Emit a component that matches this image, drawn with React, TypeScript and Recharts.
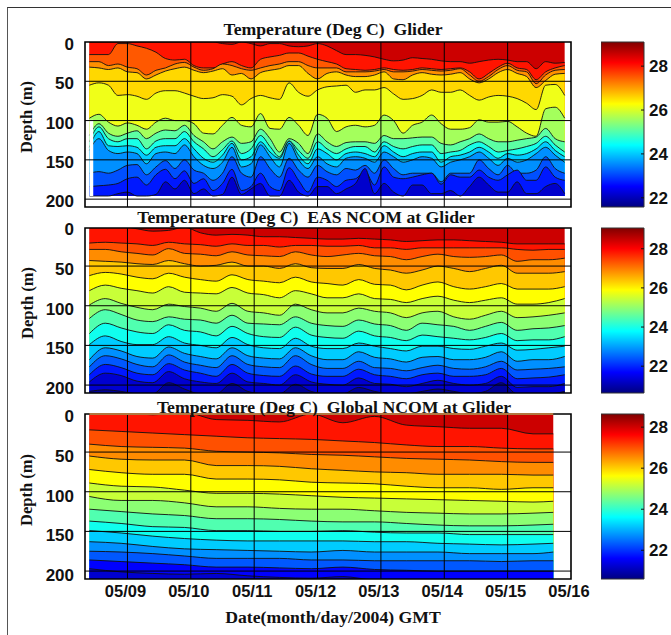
import { AreaChart, Area, BarChart, Bar, XAxis, YAxis, ReferenceLine, ReferenceArea } from 'recharts'

// --- Glider panel: contour depths (m), every 0.15 day
const gliderDays = [8.4, 8.55, 8.7, 8.85, 9, 9.15, 9.3, 9.45, 9.6, 9.75, 9.9, 10.05, 10.2, 10.35, 10.5, 10.65, 10.8, 10.95, 11.1, 11.25, 11.4, 11.55, 11.7, 11.85, 12, 12.15, 12.3, 12.45, 12.6, 12.75, 12.9, 13.05, 13.2, 13.35, 13.5, 13.65, 13.8, 13.95, 14.1, 14.25, 14.4, 14.55, 14.7, 14.85, 15, 15.15, 15.3, 15.45, 15.6, 15.75, 15.9]
const gliderC0 = [0, 0, 0, 0, 0, 0, 0, 0, 0, 0, 0, 0, 0, 0, 2, 3, 0, 2, 5, 2, 2, 5, 6, 5, 2, 5, 11, 16, 16, 17, 19, 22, 24, 23, 20, 21, 22, 24, 25, 25, 27, 25, 23, 22, 23, 25, 25, 34, 25, 27, 26]
const gliderC1 = [16, 16, 16, 2, 2, 5, 8, 13, 21, 23, 22, 30, 33, 33, 28, 25, 30, 33, 22, 19, 17, 14, 14, 18, 22, 25, 28, 34, 35, 36, 35, 33, 35, 36, 35, 33, 34, 35, 34, 33, 38, 47, 40, 32, 27, 33, 35, 48, 38, 33, 30]
const gliderC2 = [25, 25, 30, 28, 32, 34, 42, 36, 33, 28, 26, 32, 36, 34, 28, 30, 34, 36, 33, 30, 28, 25, 25, 30, 33, 33, 33, 38, 38, 38, 37, 35, 38, 38, 37, 35, 36, 37, 36, 34, 42, 50, 44, 35, 30, 36, 38, 53, 42, 36, 35]
const gliderC3 = [32, 33, 35, 33, 38, 39, 47, 42, 37, 34, 32, 36, 39, 37, 34, 42, 40, 47, 39, 36, 34, 30, 30, 40, 47, 40, 38, 42, 44, 44, 42, 38, 47, 48, 42, 39, 41, 42, 41, 39, 47, 52, 47, 39, 35, 40, 44, 58, 49, 41, 40]
const gliderC4 = [55, 52, 55, 68, 67, 69, 73, 65, 62, 62, 65, 69, 72, 71, 67, 69, 80, 72, 68, 71, 73, 52, 64, 69, 61, 57, 56, 55, 64, 61, 61, 58, 66, 73, 72, 68, 61, 64, 64, 61, 68, 74, 70, 68, 69, 72, 78, 86, 55, 54, 68]
const gliderC5 = [97, 92, 102, 107, 103, 106, 111, 102, 97, 100, 100, 104, 116, 117, 106, 96, 106, 108, 91, 110, 111, 96, 106, 119, 92, 97, 114, 108, 106, 108, 106, 93, 100, 116, 106, 102, 93, 104, 111, 111, 109, 99, 102, 102, 101, 108, 116, 120, 85, 83, 97]
const gliderC6 = [119, 104, 116, 120, 116, 113, 123, 116, 112, 113, 106, 119, 127, 136, 127, 121, 129, 127, 111, 123, 140, 123, 129, 142, 117, 127, 133, 128, 127, 127, 129, 119, 123, 123, 122, 121, 121, 129, 131, 127, 123, 117, 123, 127, 127, 125, 123, 121, 110, 123, 127]
const gliderC7 = [127, 108, 123, 127, 123, 123, 136, 126, 123, 123, 114, 127, 136, 146, 137, 126, 142, 136, 119, 133, 146, 126, 138, 148, 127, 136, 142, 136, 133, 133, 140, 127, 133, 136, 133, 131, 131, 142, 140, 138, 131, 127, 133, 140, 138, 136, 133, 129, 120, 131, 140]
const gliderC8 = [134, 114, 132, 133, 132, 134, 144, 134, 132, 132, 123, 136, 148, 153, 144, 129, 150, 146, 127, 140, 148, 126, 144, 155, 136, 142, 150, 142, 140, 142, 146, 132, 140, 146, 142, 140, 140, 153, 146, 144, 140, 134, 140, 148, 142, 144, 142, 136, 127, 138, 146]
const gliderC9 = [138, 123, 138, 142, 140, 142, 155, 142, 140, 142, 131, 146, 157, 161, 153, 134, 159, 155, 131, 146, 159, 129, 150, 161, 146, 155, 159, 148, 146, 148, 153, 140, 146, 153, 150, 146, 148, 159, 153, 150, 146, 140, 148, 157, 148, 153, 150, 142, 134, 144, 153]
const gliderC10 = [167, 165, 167, 163, 157, 156, 169, 159, 151, 161, 150, 163, 167, 176, 167, 146, 167, 172, 146, 161, 172, 148, 163, 172, 157, 165, 169, 161, 163, 157, 167, 150, 161, 169, 167, 167, 167, 178, 167, 167, 167, 150, 161, 169, 157, 167, 167, 163, 146, 161, 167]
const gliderC11 = [184, 183, 182, 180, 174, 172, 182, 169, 162, 174, 164, 180, 174, 189, 180, 162, 189, 184, 167, 184, 189, 160, 176, 191, 172, 176, 184, 176, 174, 165, 182, 159, 172, 174, 172, 169, 167, 181, 169, 172, 172, 163, 172, 176, 169, 163, 176, 176, 159, 172, 176]
const gliderC12 = [196, 196, 196, 193, 191, 196, 196, 194, 178, 187, 176, 193, 187, 196, 194, 172, 194, 187, 180, 196, 196, 176, 191, 196, 184, 184, 193, 187, 180, 161, 193, 180, 191, 196, 182, 182, 193, 193, 189, 196, 184, 172, 182, 191, 191, 178, 193, 193, 184, 180, 193]
const gliderContours = [gliderC0, gliderC1, gliderC2, gliderC3, gliderC4, gliderC5, gliderC6, gliderC7, gliderC8, gliderC9, gliderC10, gliderC11, gliderC12]
const gliderColors = ['#cc0000', '#ff1400', '#ff5800', '#ff9000', '#ffd800', '#f0ff18', '#a4ff5c', '#5cffa4', '#18ffe8', '#00ccff', '#0090ff', '#0050ff', '#0018ff', '#0000cc']

// --- EAS NCOM panel, every 0.25 day
const easDays = [8.4, 8.65, 8.9, 9.15, 9.4, 9.65, 9.9, 10.15, 10.4, 10.65, 10.9, 11.15, 11.4, 11.65, 11.9, 12.15, 12.4, 12.65, 12.9, 13.15, 13.4, 13.65, 13.9, 14.15, 14.4, 14.65, 14.9, 15.15, 15.4, 15.65, 15.9]
const easC0 = [0, 0, 0, 3, 6, 5, 1, 8, 11, 10, 11, 13, 13, 14, 15, 16, 16, 15, 16, 17, 19, 18, 17, 17, 18, 19, 20, 22, 22, 22, 22]
const easC1 = [21, 20, 21, 22, 24, 20, 22, 23, 25, 22, 24, 24, 26, 24, 24, 25, 25, 24, 27, 27, 29, 27, 27, 27, 27, 27, 27, 29, 30, 29, 29]
const easC2 = [29, 29, 32, 34, 36, 28, 34, 35, 37, 32, 36, 37, 38, 32, 36, 38, 36, 34, 37, 38, 42, 38, 35, 38, 39, 38, 36, 44, 42, 42, 40]
const easC3 = [43, 44, 45, 47, 48, 43, 47, 50, 49, 45, 50, 50, 53, 47, 52, 53, 53, 48, 53, 55, 59, 55, 50, 53, 57, 53, 49, 59, 59, 59, 57]
const easC4 = [62, 58, 60, 64, 66, 59, 64, 67, 69, 61, 67, 69, 71, 64, 70, 72, 74, 67, 73, 74, 80, 74, 70, 76, 79, 76, 72, 79, 79, 79, 76]
const easC5 = [81, 74, 78, 81, 84, 76, 83, 84, 85, 77, 84, 86, 90, 81, 85, 90, 90, 85, 91, 92, 96, 91, 88, 93, 96, 93, 90, 98, 98, 96, 91]
const easC6 = [99, 91, 97, 102, 105, 98, 101, 103, 107, 97, 107, 109, 112, 98, 105, 109, 109, 103, 107, 109, 115, 109, 107, 114, 117, 112, 107, 115, 114, 112, 109]
const easC7 = [116, 105, 111, 118, 120, 114, 117, 118, 122, 112, 122, 123, 124, 114, 122, 125, 126, 118, 123, 125, 131, 122, 124, 126, 131, 126, 121, 131, 129, 128, 125]
const easC8 = [135, 122, 128, 133, 135, 124, 131, 133, 138, 126, 135, 139, 140, 127, 137, 140, 141, 132, 138, 140, 144, 137, 139, 141, 143, 140, 135, 144, 143, 143, 139]
const easC9 = [149, 138, 145, 149, 149, 139, 147, 150, 153, 140, 149, 153, 154, 141, 151, 154, 154, 147, 151, 154, 157, 151, 151, 154, 155, 151, 147, 156, 155, 153, 151]
const easC10 = [168, 153, 157, 164, 166, 152, 160, 164, 167, 153, 163, 166, 167, 153, 163, 168, 168, 158, 165, 167, 171, 165, 164, 168, 168, 165, 158, 170, 168, 168, 164]
const easC11 = [177, 163, 167, 174, 177, 162, 171, 175, 178, 163, 174, 177, 178, 163, 174, 179, 179, 170, 178, 179, 182, 178, 175, 179, 180, 177, 170, 181, 180, 179, 177]
const easC12 = [187, 174, 178, 185, 187, 173, 181, 185, 189, 174, 185, 188, 189, 176, 186, 189, 189, 180, 187, 189, 192, 187, 185, 189, 189, 187, 179, 192, 191, 190, 187]
const easC13 = [196, 185, 188, 195, 197, 183, 192, 196, 198, 185, 196, 198, 200, 187, 196, 199, 200, 191, 198, 199, 202, 198, 194, 198, 200, 198, 189, 203, 202, 202, 198]
const easC14 = [208, 206, 208, 211, 211, 197, 205, 211, 211, 198, 208, 211, 211, 199, 208, 211, 211, 203, 208, 211, 211, 208, 205, 208, 211, 208, 197, 211, 211, 211, 208]
const easContours = [easC0, easC1, easC2, easC3, easC4, easC5, easC6, easC7, easC8, easC9, easC10, easC11, easC12, easC13, easC14]
const easColors = ['#cc0000', '#ff1400', '#ff5000', '#ff8c00', '#ffc800', '#ffff00', '#c8ff38', '#8cff74', '#50ffb0', '#10ffee', '#00ccff', '#0090ff', '#0058ff', '#0018ff', '#0000d0', '#000098']

// --- Global NCOM panel, every 0.5 day
const globalDays = [8.4, 8.9, 9.4, 9.9, 10.4, 10.9, 11.4, 11.9, 12.4, 12.9, 13.4, 13.9, 14.4, 14.9, 15.4, 15.72]
const globalC0 = [0, 0, 3, 0, 9, 10, 12, 2, 13, 5, 16, 18, 20, 20, 27, 27]
const globalC1 = [22, 24, 26, 28, 30, 32, 33, 34, 36, 38, 41, 43, 43, 45, 46, 46]
const globalC2 = [40, 43, 44, 45, 49, 50, 51, 53, 54, 56, 58, 59, 60, 62, 63, 63]
const globalC3 = [55, 59, 60, 60, 67, 67, 68, 71, 73, 75, 76, 78, 78, 78, 79, 79]
const globalC4 = [72, 76, 78, 78, 84, 84, 85, 88, 89, 90, 93, 95, 95, 97, 95, 95]
const globalC5 = [89, 93, 94, 98, 102, 102, 103, 105, 107, 108, 109, 110, 111, 112, 113, 112]
const globalC6 = [106, 111, 111, 114, 119, 119, 121, 122, 122, 124, 126, 127, 128, 128, 127, 126]
const globalC7 = [122, 125, 128, 130, 134, 134, 135, 137, 138, 138, 140, 142, 143, 143, 142, 141]
const globalC8 = [137, 140, 144, 145, 149, 149, 150, 150, 149, 151, 152, 152, 154, 154, 154, 154]
const globalC9 = [149, 152, 156, 159, 161, 162, 162, 162, 162, 163, 163, 165, 166, 167, 166, 165]
const globalC10 = [163, 165, 169, 172, 173, 174, 175, 176, 174, 176, 176, 176, 178, 178, 178, 176]
const globalC11 = [175, 176, 178, 181, 184, 184, 184, 186, 186, 187, 187, 187, 187, 188, 187, 187]
const globalC12 = [186, 188, 190, 192, 195, 195, 196, 197, 195, 198, 199, 200, 200, 200, 200, 200]
const globalC13 = [197, 201, 203, 204, 203, 206, 208, 209, 207, 211, 211, 211, 211, 211, 211, 211]
const globalContours = [globalC0, globalC1, globalC2, globalC3, globalC4, globalC5, globalC6, globalC7, globalC8, globalC9, globalC10, globalC11, globalC12, globalC13]
const globalColors = ['#cc0000', '#ff1400', '#ff5000', '#ff8c00', '#ffc800', '#ffff00', '#c8ff38', '#8cff74', '#50ffb0', '#10ffee', '#00ccff', '#0090ff', '#0058ff', '#0000ff', '#0000d0']

const dayTicks = [9, 10, 11, 12, 13, 14, 15, 16]
const dayLabels = ['05/09', '05/10', '05/11', '05/12', '05/13', '05/14', '05/15', '05/16']
const depthTicks = [0, 50, 100, 150, 200]
const jet = ['#800000', '#ff0000', '#ff8000', '#ffff00', '#80ff80', '#00ffff', '#0080ff', '#0000ff', '#000080']

const SERIF = '"Liberation Serif", serif'
const SANS = '"Liberation Sans", sans-serif'
const tickStyle = { fontFamily: SANS, fontWeight: 700, fontSize: 17, fill: '#111' }
const PAD = 12 // room above the box so the "0" label is not cut

function Caption({ x, y, rotate, size = 17.7, children }: { x: number; y: number; rotate?: boolean; size?: number; children: string }) {
  return (
    <div style={{
      position: 'absolute', left: x, top: y, whiteSpace: 'pre', fontFamily: SERIF, fontWeight: 700, fontSize: size, color: '#111',
      lineHeight: 1, transform: `translate(-50%, -50%)${rotate ? ' rotate(-90deg)' : ''}`,
    }}>{children}</div>
  )
}

type PanelProps = {
  top: number; boxH: number; days: number[]; contours: number[][]; colors: string[]
  minDepth: number; maxDepth: number; bottom: number; labelDy: number; labels?: boolean; notch?: boolean; brown?: boolean
}

function Panel({ top, boxH, days, contours, colors, minDepth, maxDepth, bottom, labelDy, labels, notch, brown }: PanelProps) {
  const rows = days.map((d, i) => {
    const row: Record<string, number> = { day: d, surface: minDepth }
    contours.forEach((c, k) => { row[`c${k}`] = c[i] })
    return row
  })
  const xAxisH = labels ? 34 : 1
  return (
    <div style={{ position: 'absolute', left: 0, top: top - PAD }}>
      <AreaChart width={600} height={boxH + xAxisH + PAD + 10} data={rows} margin={{ top: PAD, right: 29, bottom: 10, left: 0 }}>
        <XAxis dataKey="day" type="number" domain={[8.33, 16]} ticks={dayTicks} interval={0} height={xAxisH} axisLine={false} tickLine={false}
          tick={labels ? { ...tickStyle, fontSize: 16.5, dx: -2 } : false} tickSize={0} tickMargin={6} tickFormatter={(v: number) => dayLabels[dayTicks.indexOf(v)]} />
        <YAxis type="number" reversed allowDataOverflow domain={[minDepth, maxDepth]} ticks={depthTicks} interval={0} width={85} axisLine={false} tickLine={false}
          tick={{ ...tickStyle, dy: labelDy }} tickSize={0} tickMargin={11} />
        <Area dataKey="surface" type="linear" baseValue={bottom} fill={colors[0]} fillOpacity={1} stroke="none" dot={false} activeDot={false} isAnimationActive={false} />
        {contours.map((_, k) => (
          <Area key={k} dataKey={`c${k}`} type="monotoneX" baseValue={bottom} fill={colors[k + 1]} fillOpacity={1} stroke="#111" strokeWidth={0.9} dot={false} activeDot={false} isAnimationActive={false} />
        ))}
        {notch && <ReferenceArea x1={8.4} x2={8.46} y1={99} y2={bottom} fill="#fff" fillOpacity={1} stroke="none" />}
        {depthTicks.filter((t) => t > minDepth).map((t) => <ReferenceLine key={t} y={t} stroke="#000" strokeWidth={1} />)}
        {dayTicks.slice(0, -1).map((t) => <ReferenceLine key={t} x={t} stroke="#000" strokeWidth={1} />)}
        {brown && <ReferenceLine segment={[{ x: 8.4, y: minDepth }, { x: 15.72, y: minDepth }]} stroke="#b07840" strokeWidth={2} />}
        <ReferenceArea x1={8.33} x2={16} y1={minDepth} y2={maxDepth} fill="none" stroke="#000" strokeWidth={1.6} />
      </AreaChart>
    </div>
  )
}

function ColorBar({ id, top, boxH, lo, hi, ticks }: { id: string; top: number; boxH: number; lo: number; hi: number; ticks: number[] }) {
  return (
    <div style={{ position: 'absolute', left: 601, top: top - PAD }}>
      <BarChart width={70} height={boxH + 2 * PAD} data={[{ name: id, range: [lo, hi] }]} margin={{ top: PAD, right: 0, bottom: PAD, left: 0 }} barCategoryGap={0}>
        <defs>
          <linearGradient id={id} x1="0" y1="0" x2="0" y2="1">
            {jet.map((c, i) => <stop key={c} offset={i / (jet.length - 1)} stopColor={c} />)}
          </linearGradient>
        </defs>
        <XAxis dataKey="name" hide />
        <YAxis orientation="right" type="number" domain={[lo, hi]} ticks={ticks} interval={0} width={27} axisLine={false} tickLine={{ stroke: '#111' }}
          tick={{ ...tickStyle, textAnchor: 'start' }} tickSize={-3} tickMargin={8} />
        <Bar dataKey="range" fill={`url(#${id})`} stroke="#333" strokeWidth={1} isAnimationActive={false} />
      </BarChart>
    </div>
  )
}

export default function App() {
  return (
    <div style={{ position: 'absolute', left: 0, top: 0, width: 671, height: 635, background: '#fff', overflow: 'hidden' }}>
      <div style={{ position: 'absolute', left: 7, top: 7, width: 680, height: 640, borderLeft: '1px solid #555', borderTop: '1px solid #333' }} />

      <Panel top={42} boxH={165} days={gliderDays} contours={gliderContours} colors={gliderColors} minDepth={0} maxDepth={210} bottom={196} labelDy={2} notch />
      <Panel top={228} boxH={165} days={easDays} contours={easContours} colors={easColors} minDepth={2} maxDepth={210} bottom={211} labelDy={3} />
      <Panel top={414} boxH={165} days={globalDays} contours={globalContours} colors={globalColors} minDepth={2} maxDepth={210} bottom={211} labelDy={4} labels brown />

      <ColorBar id="jet1" top={42} boxH={165} lo={21.58} hi={29.1} ticks={[22, 24, 26, 28]} />
      <ColorBar id="jet2" top={228} boxH={165} lo={20.63} hi={29.06} ticks={[22, 24, 26, 28]} />
      <ColorBar id="jet3" top={414} boxH={165} lo={20.6} hi={28.64} ticks={[22, 24, 26, 28]} />

      <Caption x={333} y={30}>{'Temperature (Deg C)  Glider'}</Caption>
      <Caption x={306} y={218}>{'Temperature (Deg C)  EAS NCOM at Glider'}</Caption>
      <Caption x={334} y={408}>{'Temperature (Deg C)  Global NCOM at Glider'}</Caption>
      <Caption x={27} y={117} size={16.5} rotate>Depth (m)</Caption>
      <Caption x={28} y={303} size={16.5} rotate>Depth (m)</Caption>
      <Caption x={27} y={490} size={16.5} rotate>Depth (m)</Caption>
      <Caption x={333} y={618}>Date(month/day/2004) GMT</Caption>
    </div>
  )
}
